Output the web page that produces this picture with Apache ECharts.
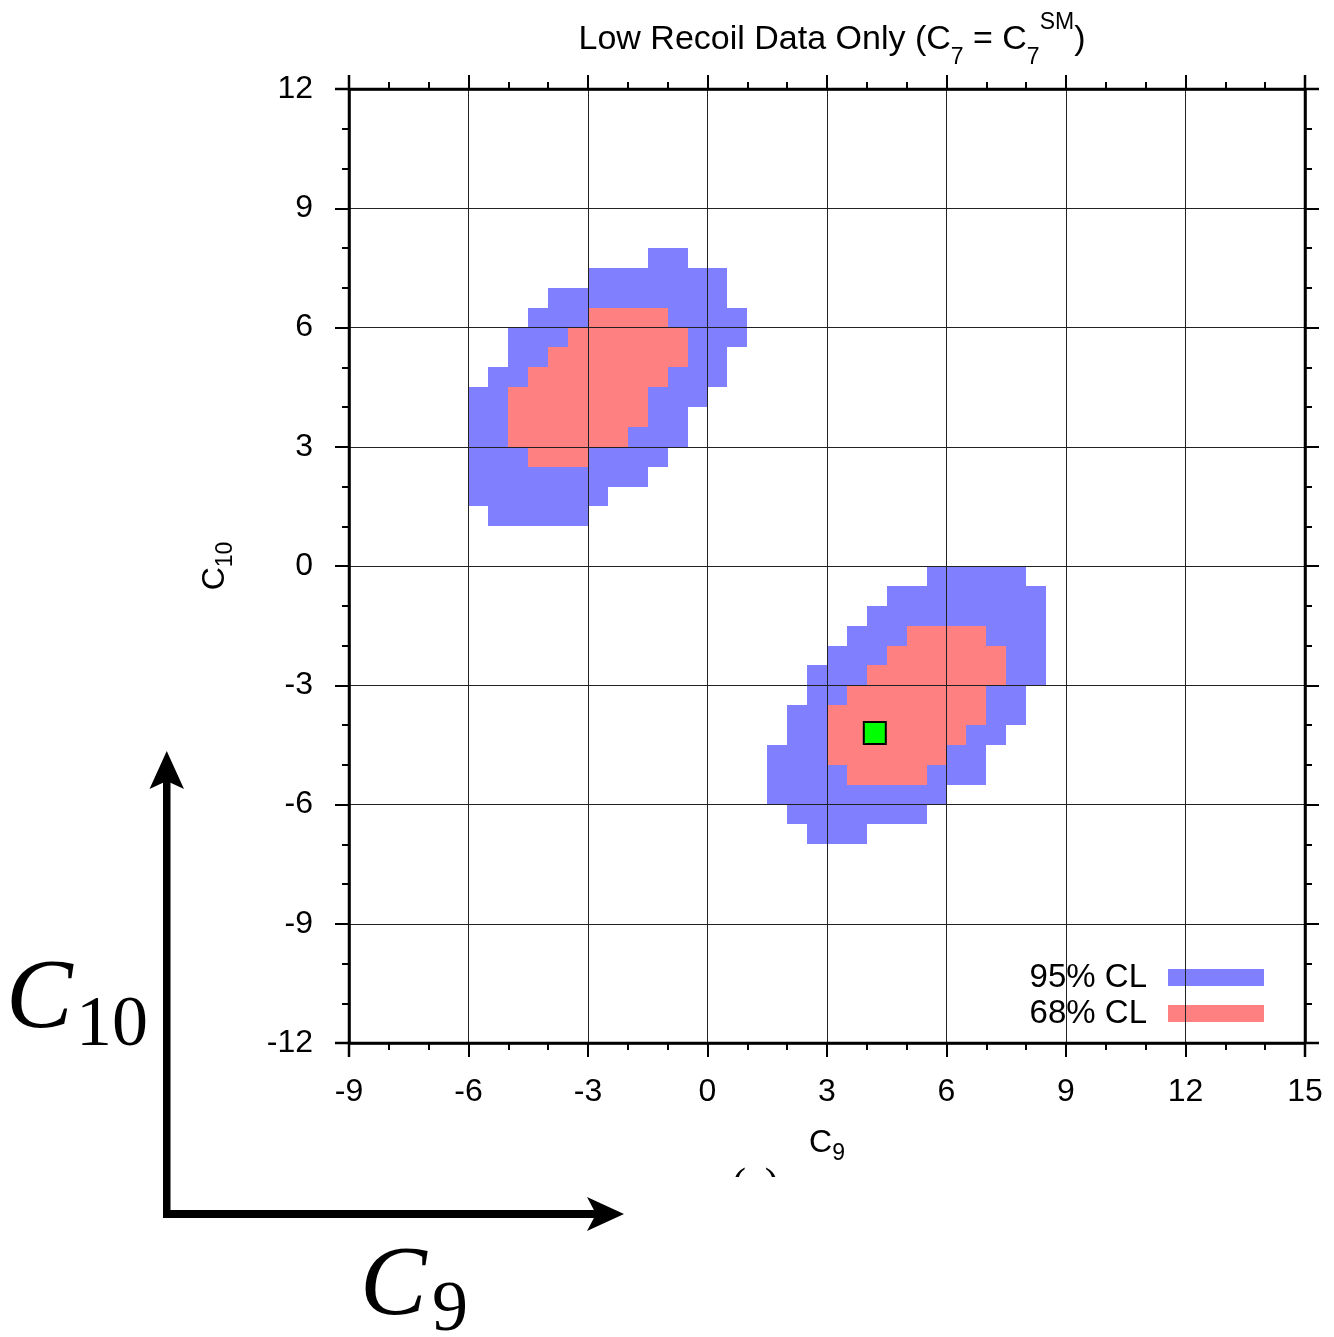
<!DOCTYPE html>
<html>
<head>
<meta charset="utf-8">
<script src="https://cdn.jsdelivr.net/npm/echarts@6/dist/echarts.min.js"></script>
<style>
html,body{margin:0;padding:0;background:#fff;}
#chart{width:1334px;height:1337px;}
</style>
</head>
<body>
<div id="chart"></div>
<script>
// ---- data ----
// grid cell height (C10 step) of the scan
const CELL = 0.5;
// 95% CL region: rows of [C10 lower edge, C9 from, C9 to]
const blue95Rows = [
  [7.5, -1.5, -0.5], [7.0, -3, 0.5], [6.5, -4, 0.5], [6.0, -4.5, 1], [5.5, -5, 1],
  [5.0, -5, 0.5], [4.5, -5.5, 0.5], [4.0, -6, 0], [3.5, -6, -0.5], [3.0, -6, -0.5],
  [2.5, -6, -1], [2.0, -6, -1.5], [1.5, -6, -2.5], [1.0, -5.5, -3],
  [-0.5, 5.5, 8], [-1.0, 4.5, 8.5], [-1.5, 4, 8.5], [-2.0, 3.5, 8.5], [-2.5, 3, 8.5],
  [-3.0, 2.5, 8.5], [-3.5, 2.5, 8], [-4.0, 2, 8], [-4.5, 2, 7.5], [-5.0, 1.5, 7],
  [-5.5, 1.5, 7], [-6.0, 1.5, 6], [-6.5, 2, 5.5], [-7.0, 2.5, 4]
];
// 68% CL region
const red68Rows = [
  [6.0, -3, -1], [5.5, -3.5, -0.5], [5.0, -4, -0.5], [4.5, -4.5, -1],
  [4.0, -5, -1.5], [3.5, -5, -1.5], [3.0, -5, -2], [2.5, -4.5, -3],
  [-2.0, 5, 7], [-2.5, 4.5, 7.5], [-3.0, 4, 7.5], [-3.5, 3.5, 7],
  [-4.0, 3, 7], [-4.5, 3, 6.5], [-5.0, 3, 6], [-5.5, 3.5, 5.5]
];
// best-fit point
const bestFit = [[4.2, -4.2]];
const seriesNames = ['95% CL', '68% CL'];
const xRange = [-9, 15];
const yRange = [-12, 12];
const tickStep = 3;

// ---- chart ----
const FONT = '"Liberation Sans", Arial, Helvetica, sans-serif';
const SERIF = '"Liberation Serif", "DejaVu Serif", serif';
const G = {left: 349, top: 89, right: 29, bottom: 294};
const W = 1334, H = 1337;

function cellRenderer(fill) {
  return function (params, api) {
    const y0 = api.value(0), x0 = api.value(1), x1 = api.value(2);
    const a = api.coord([x0, y0 + CELL]);
    const b = api.coord([x1, y0]);
    const x = Math.round(a[0]), y = Math.round(a[1]);
    return {
      type: 'rect',
      shape: {x: x, y: y, width: Math.round(b[0]) - x, height: Math.round(b[1]) - y},
      style: {fill: fill}
    };
  };
}

const axisLineStyle = {color: '#000', width: 2.5};
const tickStyle = {color: '#000', width: 2};
function makeAxis(range, pos, main, margin, extra) {
  return Object.assign({
    type: 'value', min: range[0], max: range[1], interval: tickStep, position: pos, z: 10,
    axisLine: {show: true, onZero: false, lineStyle: axisLineStyle},
    axisTick: {show: true, inside: false, length: 14, lineStyle: tickStyle},
    minorTick: {show: true, splitNumber: 3, length: 7, lineStyle: tickStyle},
    splitLine: {show: main, lineStyle: {color: '#222', width: 1}},
    minorSplitLine: {show: false},
    axisLabel: main ? {show: true, fontSize: 32, fontFamily: FONT, color: '#000', margin: margin} : {show: false}
  }, extra || {});
}

const nameRich = {
  m: {fontSize: 32, fontFamily: FONT, color: '#000', lineHeight: 44},
  s: {fontSize: 23, fontFamily: FONT, color: '#000', lineHeight: 23, verticalAlign: 'bottom'}
};

const chart = echarts.init(document.getElementById('chart'), null, {renderer: 'canvas', width: W, height: H});

const option = {
  animation: false,
  backgroundColor: '#fff',
  title: {
    text: '{m|Low Recoil Data Only (C}{sub|7}{m| = C}{sub|7}{sup|SM}{m|)}',
    left: (G.left + (W - G.right)) / 2,
    textAlign: 'center',
    top: 6,
    textStyle: {
      fontWeight: 'normal',
      rich: {
        m: {fontSize: 34, fontFamily: FONT, fontWeight: 'normal', color: '#000', lineHeight: 58},
        sub: {fontSize: 23, fontFamily: FONT, fontWeight: 'normal', color: '#000', lineHeight: 34, verticalAlign: 'bottom'},
        sup: {fontSize: 23, fontFamily: FONT, fontWeight: 'normal', color: '#000', lineHeight: 18, verticalAlign: 'top'}
      }
    }
  },
  legend: {
    data: seriesNames,
    orient: 'vertical',
    right: 65,
    top: 955,
    align: 'right',
    icon: 'rect',
    itemWidth: 96,
    itemHeight: 17,
    itemGap: 1,
    selectedMode: false,
    textStyle: {fontSize: 33, fontFamily: FONT, color: '#000', lineHeight: 35, padding: [0, 16, 0, 0]}
  },
  grid: {left: G.left, right: G.right, top: G.top, bottom: G.bottom, containLabel: false},
  xAxis: [
    makeAxis(xRange, 'bottom', true, 33, {
      name: '{m|C}{s|9}', nameLocation: 'middle', nameGap: 78,
      nameTextStyle: {rich: nameRich}
    }),
    makeAxis(xRange, 'top', false, 0)
  ],
  yAxis: [
    makeAxis(yRange, 'left', true, 36, {
      name: '{m|C}{s|10}', nameLocation: 'middle', nameGap: 112, nameRotate: 90,
      nameTextStyle: {rich: nameRich}
    }),
    makeAxis(yRange, 'right', false, 0)
  ],
  series: [
    {
      name: seriesNames[0], type: 'custom', xAxisIndex: 0, yAxisIndex: 0,
      itemStyle: {color: '#8080ff'},
      renderItem: cellRenderer('#8080ff'),
      encode: {x: [1, 2], y: 0},
      data: blue95Rows, z: 2
    },
    {
      name: seriesNames[1], type: 'custom', xAxisIndex: 0, yAxisIndex: 0,
      itemStyle: {color: '#ff8080'},
      renderItem: cellRenderer('#ff8080'),
      encode: {x: [1, 2], y: 0},
      data: red68Rows, z: 3
    },
    {
      name: 'Best fit', type: 'scatter', xAxisIndex: 0, yAxisIndex: 0,
      symbol: 'rect', symbolSize: 22,
      itemStyle: {color: '#00ff00', borderColor: '#000', borderWidth: 2, opacity: 1},
      data: bestFit, z: 20
    }
  ],
  graphic: [
    // axis-frame overshoot
    {type: 'line', z: 30, shape: {x1: G.left - 14, y1: G.top, x2: W - G.right + 14, y2: G.top}, style: {stroke: '#000', lineWidth: 2.5}},
    {type: 'line', z: 30, shape: {x1: G.left - 14, y1: H - G.bottom, x2: W - G.right + 14, y2: H - G.bottom}, style: {stroke: '#000', lineWidth: 2.5}},
    {type: 'line', z: 30, shape: {x1: G.left, y1: G.top - 14, x2: G.left, y2: H - G.bottom + 14}, style: {stroke: '#000', lineWidth: 2.5}},
    {type: 'line', z: 30, shape: {x1: W - G.right, y1: G.top - 14, x2: W - G.right, y2: H - G.bottom + 14}, style: {stroke: '#000', lineWidth: 2.5}},
    // cropped "(a)" caption
    {type: 'text', z: 30, left: 732, top: 1165, style: {text: '(a)', font: '42px ' + SERIF, fill: '#000'}},
    {type: 'rect', z: 31, shape: {x: 700, y: 1177, width: 110, height: 30}, style: {fill: '#fff'}},
    // big arrows
    {type: 'rect', z: 30, shape: {x: 163, y: 780, width: 7.5, height: 438}, style: {fill: '#000'}},
    {type: 'polygon', z: 30, shape: {points: [[166.75, 751], [184, 789], [166.75, 781], [149.5, 789]]}, style: {fill: '#000'}},
    {type: 'rect', z: 30, shape: {x: 163, y: 1210, width: 435, height: 8}, style: {fill: '#000'}},
    {type: 'polygon', z: 30, shape: {points: [[624, 1214], [587, 1231], [596, 1214], [587, 1197]]}, style: {fill: '#000'}},
    // big axis labels
    {type: 'text', z: 30, x: 6, y: 1001, style: {text: 'C', font: 'italic 100px ' + SERIF, fill: '#000', verticalAlign: 'middle'}},
    {type: 'text', z: 30, x: 76, y: 1026, style: {text: '10', font: '72px ' + SERIF, fill: '#000', verticalAlign: 'middle'}},
    {type: 'text', z: 30, x: 360, y: 1288, style: {text: 'C', font: 'italic 100px ' + SERIF, fill: '#000', verticalAlign: 'middle'}},
    {type: 'text', z: 30, x: 432, y: 1311, style: {text: '9', font: '72px ' + SERIF, fill: '#000', verticalAlign: 'middle'}}
  ]
};
chart.setOption(option);
</script>
</body>
</html>
